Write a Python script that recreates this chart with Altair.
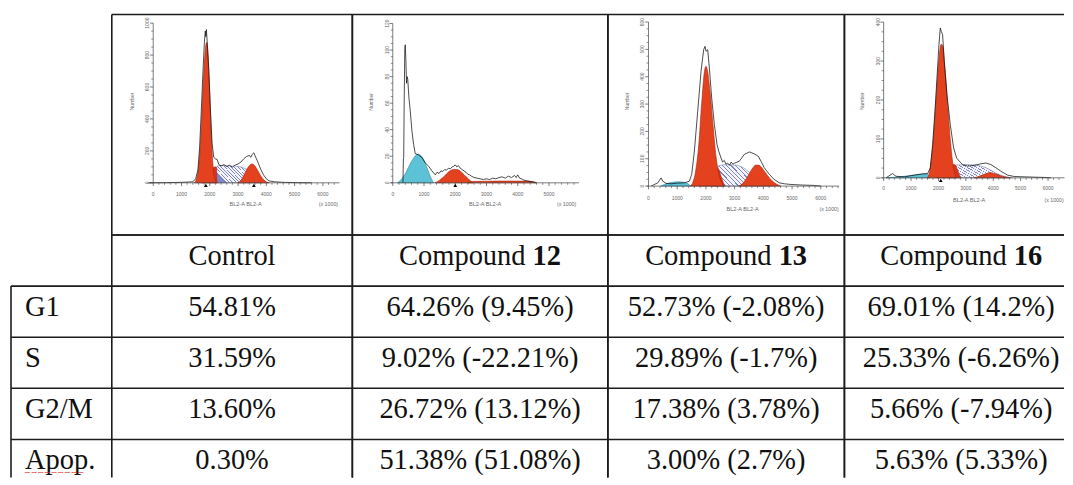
import altair as alt
import pandas as pd

# ================= table contents =================
ROW_LABELS = ["G1", "S", "G2/M", "Apop."]
HEAD_WORD = ["Control", "Compound", "Compound", "Compound"]
HEAD_NUM = ["", "12", "13", "16"]
VAL_CONTROL = ["54.81%", "31.59%", "13.60%", "0.30%"]
VAL_C12 = ["64.26% (9.45%)", "9.02% (-22.21%)", "26.72% (13.12%)", "51.38% (51.08%)"]
VAL_C13 = ["52.73% (-2.08%)", "29.89% (-1.7%)", "17.38% (3.78%)", "3.00% (2.7%)"]
VAL_C16 = ["69.01% (14.2%)", "25.33% (-6.26%)", "5.66% (-7.94%)", "5.63% (5.33%)"]

# ================= histogram data (BL2-A, x1000) =================
# --- Control ---
CT_OUT_X = [-150, 500, 1000, 1400, 1500, 1580, 1640, 1700, 1760, 1810, 1840, 1860, 1880, 1910, 1960, 2020,
            2080, 2140, 2200, 2260, 2320, 2400, 2500, 2600, 2700, 2800, 2900, 3000, 3100, 3200, 3300, 3400,
            3450, 3500, 3560, 3600, 3700, 3800, 3900, 4000, 4100, 4300, 4600, 5000, 5600]
CT_OUT_Y = [0, 1, 3, 6, 25, 80, 220, 450, 700, 880, 950, 915, 960, 880, 720, 470,
            250, 160, 150, 146, 115, 106, 114, 102, 110, 98, 112, 118, 130, 150, 165, 172,
            160, 178, 188, 170, 130, 85, 50, 25, 12, 6, 3, 1, 0]
CT_G1_X = [1450, 1530, 1600, 1660, 1720, 1780, 1840, 1890, 1940, 1990, 2040, 2090, 2140, 2200, 2260]
CT_G1_Y = [0, 25, 90, 220, 430, 660, 830, 880, 800, 600, 360, 170, 60, 15, 0]
CT_HUMP_X = [1700, 1800, 1900, 2000, 2100, 2200, 2240, 2250]
CT_HUMP_Y = [0, 15, 40, 70, 92, 100, 95, 0]
CT_S_X = [2200, 2230, 2300, 2500, 2700, 2900, 3100, 3300, 3500, 3700, 3850]
CT_S_Y = [0, 100, 108, 108, 106, 104, 100, 85, 55, 25, 0]
CT_G2_X = [3000, 3100, 3200, 3300, 3400, 3500, 3600, 3700, 3800, 3900, 4000, 4100]
CT_G2_Y = [0, 15, 45, 80, 108, 118, 105, 75, 45, 20, 6, 0]
CT_MARK = [1860, 3560]

# --- Compound 12 ---
C12_OUT_X = [325, 340, 350, 365, 385, 400, 420, 440, 460, 480, 517, 560, 613, 666, 720, 826, 933, 1040,
             1146, 1253, 1360, 1420, 1480, 1540, 1600, 1660, 1720, 1780, 1840, 1900, 1950, 2000, 2050,
             2100, 2160, 2220, 2280, 2340, 2400, 2460, 2520, 2600, 2700, 2800, 2900, 3000, 3100, 3200,
             3300, 3400, 3500, 3600, 3700, 3800, 3900, 3950, 4000, 4060, 4120, 4200, 4300, 4400, 4500, 4600]
C12_OUT_Y = [0, 18, 19, 60, 101, 104, 92, 75, 80, 78, 64, 54, 39, 29, 22, 21, 19, 15,
             12.5, 9, 6, 8, 7, 9, 8.5, 10, 9.5, 11, 10.5, 12, 12.5, 13.5, 12,
             13, 11, 10, 9, 8, 6.5, 6, 5, 4, 3.5, 3, 2.5, 3, 2.5, 3.5,
             3, 4, 4.5, 3.5, 5, 4, 5.5, 4, 6, 3.5, 3, 2, 1.5, 1, 0.5, 0]
C12_AP_X = [150, 250, 350, 450, 550, 650, 750, 830, 900, 1000, 1100, 1200, 1300]
C12_AP_Y = [0, 2, 5, 9, 14, 18, 21, 21.5, 20.5, 17, 11, 5, 0]
C12_G1_X = [1350, 1500, 1650, 1800, 1950, 2050, 2200, 2350, 2500, 2560]
C12_G1_Y = [0, 2, 5, 8.5, 10, 10, 8, 4.5, 1.2, 0]
C12_G2_X = [2400, 2500, 3000, 3500, 4000, 4400, 4550, 4600]
C12_G2_Y = [0, 1, 1.2, 1.3, 1.3, 1.1, 0.5, 0]
C12_MARK = [2000]

# --- Compound 13 ---
C13_OUT_X = [90, 323, 438, 496, 612, 786, 1017, 1250, 1424, 1505, 1598, 1714, 1830, 1922, 1969, 2004, 2062,
             2120, 2201, 2294, 2387, 2445, 2526, 2580, 2640, 2700, 2760, 2820, 2880, 2940, 3000, 3164,
             3338, 3512, 3686, 3825, 3918, 4034, 4208, 4382, 4555, 4729, 4961, 5309, 5773, 6005]
C13_OUT_Y = [0, 12, 30, 18, 10, 8.5, 11, 12, 18, 43, 128, 274, 420, 499, 511, 493, 499,
             432, 322, 225, 152, 128, 103, 88, 94, 80, 84, 76, 88, 80, 84, 91,
             116, 125, 118, 109, 91, 67, 43, 24, 12, 8.5, 6, 4, 2.5, 0]
C13_AP_X = [430, 550, 700, 850, 1000, 1150, 1300, 1400, 1450]
C13_AP_Y = [0, 6, 11, 14, 15.5, 15, 12, 7, 0]
C13_G1_X = [1450, 1550, 1650, 1750, 1850, 1950, 2000, 2050, 2150, 2250, 2350, 2450, 2550, 2620]
C13_G1_Y = [0, 15, 60, 150, 300, 420, 438, 425, 340, 220, 110, 45, 12, 0]
C13_HUMP_X = [1750, 1900, 2050, 2200, 2350, 2450, 2550, 2650]
C13_HUMP_Y = [0, 20, 45, 62, 70, 60, 30, 0]
C13_S_X = [2200, 2450, 2600, 2800, 3100, 3300, 3500, 3700, 3900, 4100, 4300]
C13_S_Y = [0, 75, 78, 78, 76, 68, 52, 35, 18, 7, 0]
C13_G2_X = [3150, 3300, 3450, 3600, 3750, 3850, 4000, 4150, 4300, 4450, 4600]
C13_G2_Y = [0, 12, 35, 62, 77, 76, 60, 38, 20, 8, 0]
C13_MARK = []

# --- Compound 16 ---
C16_OUT_X = [87, 330, 451, 755, 1120, 1424, 1606, 1703, 1788, 1873, 1946, 2019, 2068, 2104, 2152, 2213,
             2310, 2432, 2553, 2663, 2760, 2881, 3064, 3307, 3550, 3732, 3914, 4097, 4279, 4522, 4765,
             5130, 5494, 5858, 6100]
C16_OUT_Y = [0, 11, 4, 2.5, 7, 10, 11, 26, 85, 171, 256, 342, 385, 376, 368, 299,
             214, 137, 77, 51, 43, 34, 30, 32, 36, 38, 34, 26, 17, 7, 3.4,
             2.5, 1.7, 1, 0]
C16_AP_X = [100, 400, 700, 1000, 1250, 1450, 1580, 1650, 1700]
C16_AP_Y = [0, 1.5, 3.5, 6, 8.5, 10, 10, 5, 0]
C16_G1_X = [1600, 1700, 1800, 1900, 2000, 2100, 2150, 2250, 2350, 2450, 2550, 2650]
C16_G1_Y = [0, 25, 90, 190, 290, 343, 340, 270, 175, 85, 25, 0]
C16_HUMP_X = [1900, 2100, 2300, 2500, 2600, 2700, 2800]
C16_HUMP_Y = [0, 12, 25, 33, 34, 20, 0]
C16_S_X = [2300, 2500, 2650, 3000, 3400, 3700, 3900, 4100, 4300, 4500, 4700]
C16_S_Y = [0, 25, 33, 34, 33, 27, 20, 12, 6, 2, 0]
C16_G2_X = [3300, 3450, 3600, 3750, 3850, 4000, 4150, 4300, 4450, 4600]
C16_G2_Y = [0, 3, 7, 11, 13, 12, 8.5, 5, 2, 0]
C16_MARK = [2085]

# axis ticks of the small histograms
CT_YT = [0, 200, 400, 600, 800, 1000]
C12_YT = [0, 20, 40, 60, 80, 100, 120]
C13_YT = [0, 100, 200, 300, 400, 500, 600]
C16_YT = [0, 100, 200, 300, 400]
XT_6000 = [0, 1000, 2000, 3000, 4000, 5000, 6000]
XT_5000 = [0, 1000, 2000, 3000, 4000, 5000]

# ================= layout & style =================
TOP = 13
COL_W = [101, 241, 256, 237, 220]
CELL_LEFT = [10, 111, 352, 608, 845]
HIST_H = 221
ROW_H = 51.2
BAND_RANGE = 5 * ROW_H
TABLE_H = 243
LINE = "#1c1c1c"
LW = 1.6
SERIF = "Liberation Serif"
SANS = "Liberation Sans"
TXT = "#111111"
FS = 28.5
AX = "#444444"
LBL = "#6a6a6a"
RED = "#e4411f"
RED_EDGE = "#a8230f"
CYAN = "#5ec2d6"
CYAN_EDGE = "#2a8aa0"
ONE = pd.DataFrame({"k": [0]})

_stops = []
_N = 16
for _i in range(_N):
    a, b, c = _i / _N, (_i + 0.28) / _N, (_i + 1) / _N
    _stops += [alt.GradientStop(offset=a, color="#7f88c4"), alt.GradientStop(offset=b, color="#7f88c4"),
               alt.GradientStop(offset=b, color="#f4f5fc"), alt.GradientStop(offset=c, color="#f4f5fc")]
HATCH = alt.Gradient(gradient="linear", stops=_stops, x1=0, y1=0.35, x2=1, y2=0)

PANELS = [
    dict(out=(CT_OUT_X, CT_OUT_Y), ap=None, g1=(CT_G1_X, CT_G1_Y), hump=(CT_HUMP_X, CT_HUMP_Y),
         s=(CT_S_X, CT_S_Y), g2=(CT_G2_X, CT_G2_Y), mark=CT_MARK, yt=CT_YT, ym=50, xt=XT_6000,
         x0=152.5, kx=0.02833, y0=181.7, ky=0.16, xmin=-200, xmax=6590,
         num_y=510, bl_x=3265, x1000=6195, tdy=11.3, bdy=21.5),
    dict(out=(C12_OUT_X, C12_OUT_Y), ap=(C12_AP_X, C12_AP_Y), g1=(C12_G1_X, C12_G1_Y), hump=None,
         s=None, g2=(C12_G2_X, C12_G2_Y), mark=C12_MARK, yt=C12_YT, ym=5, xt=XT_5000,
         x0=392.5, kx=0.0313, y0=181.7, ky=1.33, xmin=-60, xmax=5960,
         num_y=61, bl_x=2955, x1000=5565, tdy=11.6, bdy=21.6),
    dict(out=(C13_OUT_X, C13_OUT_Y), ap=(C13_AP_X, C13_AP_Y), g1=(C13_G1_X, C13_G1_Y), hump=(C13_HUMP_X, C13_HUMP_Y),
         s=(C13_S_X, C13_S_Y), g2=(C13_G2_X, C13_G2_Y), mark=C13_MARK, yt=C13_YT, ym=25, xt=XT_6000,
         x0=648.7, kx=0.02877, y0=185.0, ky=0.274, xmin=-60, xmax=6640,
         num_y=310, bl_x=3278, x1000=6291, tdy=11.7, bdy=23.3),
    dict(out=(C16_OUT_X, C16_OUT_Y), ap=(C16_AP_X, C16_AP_Y), g1=(C16_G1_X, C16_G1_Y), hump=(C16_HUMP_X, C16_HUMP_Y),
         s=(C16_S_X, C16_S_Y), g2=(C16_G2_X, C16_G2_Y), mark=C16_MARK, yt=C16_YT, ym=25, xt=XT_6000,
         x0=884.3, kx=0.02745, y0=176.7, ky=0.39, xmin=-60, xmax=6600,
         num_y=197, bl_x=3122, x1000=6219, tdy=10.6, bdy=22.6),
]


def hrule(y, x1, x2):
    return alt.Chart(ONE).mark_rule(color=LINE, strokeWidth=LW).encode(
        x=alt.value(x1), x2=alt.value(x2), y=alt.value(y))


def vrule(x, y1, y2):
    return alt.Chart(ONE).mark_rule(color=LINE, strokeWidth=LW).encode(
        x=alt.value(x), y=alt.value(y1), y2=alt.value(y2))


def hist_panel(p, ci, last=False):
    W, H = COL_W[ci], HIST_H
    ox = p["x0"] - CELL_LEFT[ci]
    oy = p["y0"] - TOP
    xs = alt.Scale(domain=[-ox / p["kx"], (W - ox) / p["kx"]], nice=False, zero=False)
    ys = alt.Scale(domain=[(oy - H) / p["ky"], oy / p["ky"]], nice=False, zero=False)

    def X(f):
        return alt.X(f, type="quantitative", scale=xs, axis=None)

    def Y(f):
        return alt.Y(f, type="quantitative", scale=ys, axis=None)

    def XD(v):
        return alt.XDatum(v, scale=xs, axis=None)

    def YD(v):
        return alt.YDatum(v, scale=ys, axis=None)

    def area(xy, interp, **mk):
        df = pd.DataFrame({"x": xy[0], "y": xy[1]})
        return alt.Chart(df).mark_area(interpolate=interp, **mk).encode(
            x=X("x"), y=Y("y"), y2=alt.Y2Datum(0))

    layers = []
    if p["ap"]:
        layers.append(area(p["ap"], "monotone", fill=CYAN, stroke=CYAN_EDGE, strokeWidth=0.6))
    if p["s"]:
        layers.append(area(p["s"], "linear", fill=HATCH, fillOpacity=1, stroke="#6a70a0", strokeWidth=0.5))
    if p["hump"]:
        layers.append(area(p["hump"], "monotone", fill="#d8351c", stroke=RED_EDGE, strokeWidth=0.5))
    layers.append(area(p["g1"], "monotone", fill=RED, stroke=RED_EDGE, strokeWidth=0.6))
    layers.append(area(p["g2"], "monotone", fill=RED, stroke=RED_EDGE, strokeWidth=0.6))

    out = pd.DataFrame({"x": p["out"][0], "y": p["out"][1]})
    layers.append(alt.Chart(out).mark_line(color="#111111", strokeWidth=0.75).encode(x=X("x"), y=Y("y")))

    # axes
    layers.append(alt.Chart(ONE).mark_rule(color=AX, strokeWidth=0.7).encode(
        x=XD(p["xmin"]), x2=alt.X2Datum(p["xmax"]), y=YD(0)))
    layers.append(alt.Chart(ONE).mark_rule(color=AX, strokeWidth=0.7).encode(
        x=XD(0), y=YD(0), y2=alt.Y2Datum(p["yt"][-1])))
    xmaj = pd.DataFrame({"v": p["xt"], "t": [str(v) for v in p["xt"]]})
    xmin_t = pd.DataFrame({"v": [v for v in range(0, p["xmax"], 200) if v % 1000]})
    ymaj = pd.DataFrame({"v": p["yt"], "t": [str(v) for v in p["yt"]]})
    ymin_t = pd.DataFrame({"v": [v for v in range(0, p["yt"][-1], p["ym"]) if v not in p["yt"]]})
    layers.append(alt.Chart(xmaj).mark_rule(color=AX, strokeWidth=0.7, y2Offset=3.2).encode(
        x=X("v"), y=YD(0), y2=alt.Y2Datum(0)))
    layers.append(alt.Chart(xmin_t).mark_rule(color=AX, strokeWidth=0.6, y2Offset=2).encode(
        x=X("v"), y=YD(0), y2=alt.Y2Datum(0)))
    layers.append(alt.Chart(ymaj).mark_rule(color=AX, strokeWidth=0.7, x2Offset=-3.2).encode(
        y=Y("v"), x=XD(0), x2=alt.X2Datum(0)))
    layers.append(alt.Chart(ymin_t).mark_rule(color=AX, strokeWidth=0.6, x2Offset=-2).encode(
        y=Y("v"), x=XD(0), x2=alt.X2Datum(0)))
    layers.append(alt.Chart(xmaj).mark_text(font=SANS, fontSize=5, color=LBL, baseline="middle",
                                            dy=p["tdy"]).encode(x=X("v"), y=YD(0), text="t:N"))
    layers.append(alt.Chart(ymaj).mark_text(font=SANS, fontSize=5, color=LBL, baseline="middle",
                                            align="center", angle=270, xOffset=-6).encode(
        x=XD(0), y=Y("v"), text="t:N"))
    layers.append(alt.Chart(ONE).mark_text(text="Number", font=SANS, fontSize=5, color=LBL, angle=270,
                                           baseline="middle", xOffset=-21.5).encode(x=XD(0), y=YD(p["num_y"])))
    layers.append(alt.Chart(ONE).mark_text(text="BL2-A BL2-A", font=SANS, fontSize=5.6, color=LBL,
                                           baseline="middle", dy=p["bdy"]).encode(x=XD(p["bl_x"]), y=YD(0)))
    layers.append(alt.Chart(ONE).mark_text(text="(x 1000)", font=SANS, fontSize=5.3, color=LBL,
                                           baseline="middle", dy=p["bdy"]).encode(x=XD(p["x1000"]), y=YD(0)))
    if p["mark"]:
        layers.append(alt.Chart(pd.DataFrame({"v": p["mark"]})).mark_point(
            shape="triangle-up", filled=True, color="black", opacity=1, size=14, yOffset=2.6).encode(
            x=X("v"), y=YD(0)))

    # cell border
    layers += [hrule(0, 0, W), hrule(H, 0, W), vrule(0, 0, H)]
    if not last:
        layers.append(vrule(W, 0, H))
    return alt.layer(*layers).properties(width=W, height=H)


ROW_KEYS = ["hdr"] + ROW_LABELS


def table_col(ci, word=None, num=None, values=None, last=False):
    W = COL_W[ci]
    ys = alt.Scale(type="band", domain=ROW_KEYS, range=[0, BAND_RANGE], paddingInner=0, paddingOuter=0)

    def YR(**kw):
        return alt.Y("row:N", scale=ys, axis=None, **kw)

    layers = []
    if values is None:
        lines = pd.DataFrame({"row": ROW_LABELS})
        layers.append(alt.Chart(lines).mark_rule(color=LINE, strokeWidth=LW).encode(
            y=YR(bandPosition=0), x=alt.value(0), x2=alt.value(W)))
        layers.append(vrule(0, ROW_H, TABLE_H))
        lab = pd.DataFrame({"row": ROW_LABELS})
        layers.append(alt.Chart(lab).mark_text(font=SERIF, fontSize=FS, color=TXT, align="left",
                                               baseline="alphabetic", dy=4).encode(
            y=YR(), x=alt.value(14), text="row:N"))
        layers.append(alt.Chart(pd.DataFrame({"row": ["Apop."]})).mark_text(
            text="~~~~~~~~~", font="DejaVu Sans", fontSize=8, color="#e02020", align="left",
            baseline="middle", dy=8).encode(y=YR(), x=alt.value(13)))
    else:
        cx = 117 if last else W / 2
        lines = pd.DataFrame({"row": ROW_KEYS})
        layers.append(alt.Chart(lines).mark_rule(color=LINE, strokeWidth=LW).encode(
            y=YR(bandPosition=0), x=alt.value(0), x2=alt.value(W)))
        layers.append(vrule(0, 0, TABLE_H))
        if not last:
            layers.append(vrule(W, 0, TABLE_H))
        hdr = pd.DataFrame({"row": ["hdr"], "a": [word], "b": [num]})
        if num:
            layers.append(alt.Chart(hdr).mark_text(font=SERIF, fontSize=FS, color=TXT, align="right",
                                                   baseline="alphabetic", dy=4, dx=45.5).encode(
                y=YR(), x=alt.value(cx), text="a:N"))
            layers.append(alt.Chart(hdr).mark_text(font=SERIF, fontSize=FS, color=TXT, align="left",
                                                   fontWeight="bold", baseline="alphabetic", dy=4,
                                                   dx=52.6).encode(
                y=YR(), x=alt.value(cx), text="b:N"))
        else:
            layers.append(alt.Chart(hdr).mark_text(font=SERIF, fontSize=FS, color=TXT, align="center",
                                                   baseline="alphabetic", dy=4).encode(
                y=YR(), x=alt.value(cx), text="a:N"))
        vals = pd.DataFrame({"row": ROW_LABELS, "txt": values})
        layers.append(alt.Chart(vals).mark_text(font=SERIF, fontSize=FS, color=TXT, align="center",
                                                baseline="alphabetic", dy=4).encode(
            y=YR(), x=alt.value(cx), text="txt:N"))
    return alt.layer(*layers).properties(width=W, height=TABLE_H)


spacer = alt.Chart(ONE).mark_rule(opacity=0).encode(
    x=alt.value(0), y=alt.value(0), y2=alt.value(1)).properties(width=COL_W[0], height=HIST_H)

chart = alt.concat(
    spacer,
    hist_panel(PANELS[0], 1),
    hist_panel(PANELS[1], 2),
    hist_panel(PANELS[2], 3),
    hist_panel(PANELS[3], 4, last=True),
    table_col(0),
    table_col(1, HEAD_WORD[0], HEAD_NUM[0], VAL_CONTROL),
    table_col(2, HEAD_WORD[1], HEAD_NUM[1], VAL_C12),
    table_col(3, HEAD_WORD[2], HEAD_NUM[2], VAL_C13),
    table_col(4, HEAD_WORD[3], HEAD_NUM[3], VAL_C16, last=True),
    columns=5, spacing=0, bounds="flush", align="each",
).properties(
    padding={"left": 2, "top": 5, "right": 0, "bottom": 0},
    background="white",
).configure_view(strokeWidth=0)

chart.save("out.html", embed_options={"renderer": "svg", "actions": False})
